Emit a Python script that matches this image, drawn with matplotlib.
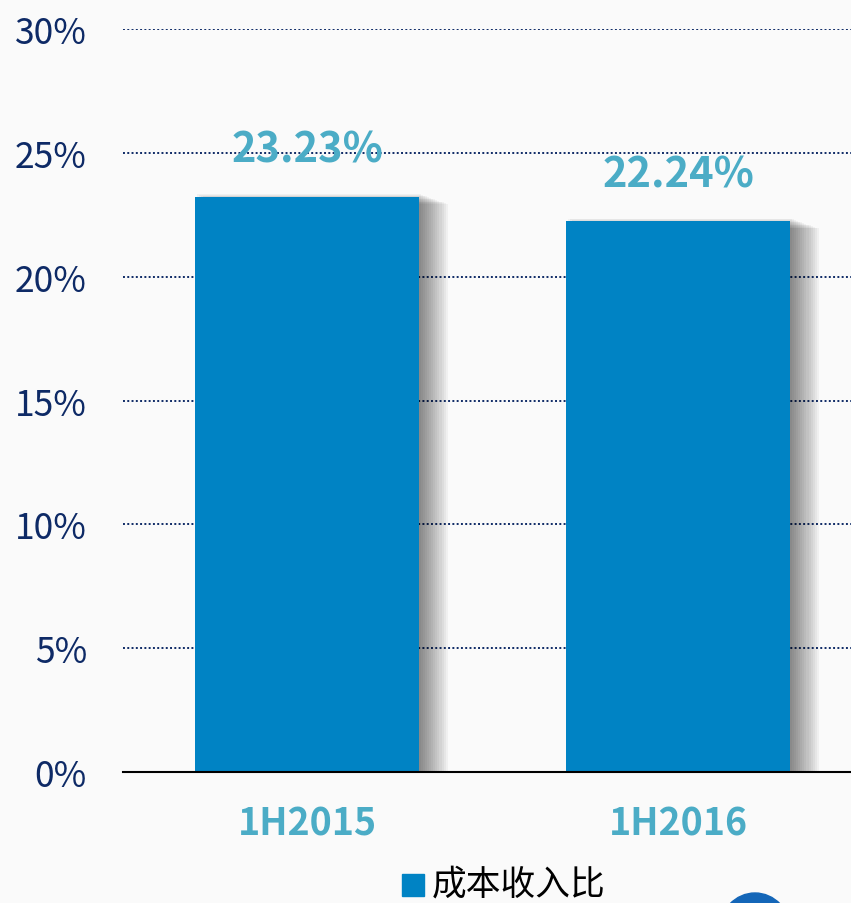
import numpy as np
import matplotlib.pyplot as plt
from matplotlib.patches import Rectangle, Circle

plt.rcParams['font.family'] = ['Noto Sans CJK SC', 'DejaVu Sans']

periods = ['1H2015', '1H2016']
ratio = [23.23, 22.24]
value_labels = ['23.23%', '22.24%']
yticks = [0, 5, 10, 15, 20, 25, 30]
legend_label = '成本收入比'

bar_color = '#0083C4'
label_color = '#4BACC6'
tick_color = '#0E2A66'
bg = '#FAFAFA'

fig = plt.figure(figsize=(8.51, 9.04), dpi=100, facecolor=bg)
ax = fig.add_axes([0.1445, 0.1449, 0.8555, 0.8219], facecolor=bg)

x = np.arange(len(periods))
width = 0.604

# blurred shadow to the right of each bar
for xi, v in zip(x, ratio):
    for k in range(14):
        off = 0.0055 * (k + 1)
        ax.add_patch(Rectangle((xi - width / 2 + off, 0), width, v + 0.1 - 0.03 * k,
                               color='black', alpha=0.04, lw=0, zorder=2))

ax.bar(x, ratio, width=width, color=bar_color, zorder=3)

for xi, v, lab in zip(x, ratio, value_labels):
    ax.text(xi, v + 1.9, lab, ha='center', va='center', fontsize=30,
            fontweight='bold', color=label_color, zorder=4)

ax.set_xlim(-0.496, 1.466)
ax.set_ylim(0, 30)
ax.set_yticks(yticks)
ax.set_yticklabels([f'{t}%' for t in yticks], fontsize=25.5, color=tick_color)
ax.set_xticks(x)
ax.set_xticklabels(periods, fontsize=27, fontweight='bold', color=label_color)
ax.tick_params(axis='both', length=0)
ax.tick_params(axis='y', pad=26)
ax.tick_params(axis='x', pad=23)

ax.grid(axis='y', linestyle=(0, (1, 1.2)), color=tick_color, linewidth=1.4, zorder=0)
for s in ['top', 'right', 'left']:
    ax.spines[s].set_visible(False)
ax.spines['bottom'].set_color('black')
ax.spines['bottom'].set_linewidth(1.5)
ax.spines['bottom'].set_zorder(5)

# legend
fig.patches.append(Rectangle((402 / 851, 1 - 897 / 904), 22 / 851, 22 / 904,
                             transform=fig.transFigure, color=bar_color))
fig.text(432 / 851, 1 - 885 / 904, legend_label, fontsize=25, color='black',
         va='center', ha='left')

# partial logo at the bottom edge
fig.patches.append(Circle((755 / 851, 1 - 932 / 904), 38 / 904,
                          transform=fig.transFigure, color='#1466B8'))

fig.savefig('out.png', dpi=100, facecolor=bg)
